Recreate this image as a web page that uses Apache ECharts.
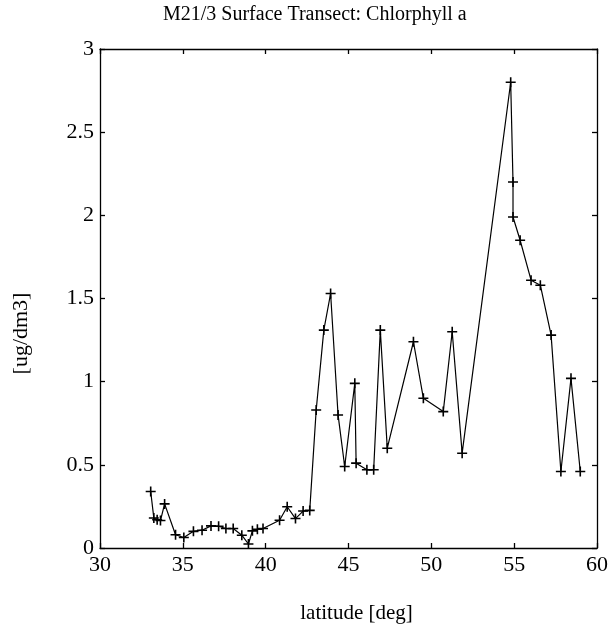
<!DOCTYPE html>
<html>
<head>
<meta charset="utf-8">
<script src="https://cdn.jsdelivr.net/npm/echarts@6/dist/echarts.min.js"></script>
<style>html,body{margin:0;padding:0;background:#fff}#c{width:611px;height:629px}</style>
</head>
<body>
<div id="c"></div>
<script>
const latitude = [33.06, 33.25, 33.45, 33.65, 33.9, 34.56, 35.06, 35.64, 36.16, 36.7, 37.16, 37.6, 38.04, 38.56, 38.96, 39.2, 39.5, 39.84, 40.84, 41.3, 41.8, 42.26, 42.66, 43.05, 43.51, 43.92, 44.37, 44.77, 45.38, 45.46, 46.11, 46.52, 46.92, 47.34, 48.92, 49.52, 50.72, 51.26, 51.86, 54.79, 54.93, 54.93, 55.36, 56.02, 56.58, 57.23, 57.82, 58.43, 58.99];
const chlorophyll = [0.34, 0.18, 0.17, 0.165, 0.265, 0.08, 0.063, 0.10, 0.107, 0.133, 0.131, 0.117, 0.117, 0.077, 0.024, 0.103, 0.113, 0.117, 0.167, 0.248, 0.177, 0.222, 0.226, 0.83, 1.31, 1.53, 0.80, 0.49, 0.99, 0.51, 0.47, 0.47, 1.31, 0.60, 1.24, 0.90, 0.82, 1.30, 0.57, 2.80, 2.20, 1.99, 1.85, 1.61, 1.58, 1.28, 0.46, 1.02, 0.46];
const xTicks = [30, 35, 40, 45, 50, 55, 60];
const yTicks = [0, 0.5, 1, 1.5, 2, 2.5, 3];

const FONT = '"Liberation Serif", "DejaVu Serif", serif';
const chart = echarts.init(document.getElementById('c'), null, {renderer: 'canvas'});
const lineStyle = {color: '#000', width: 1.3};
const tick = {show: true, inside: true, length: 5, lineStyle: {color: '#000', width: 1.3}};
const data = latitude.map((x, i) => [x, chlorophyll[i]]);

chart.setOption({
  animation: false,
  backgroundColor: '#fff',
  title: {
    text: 'M21/3 Surface Transect: Chlorphyll a',
    left: 158, top: 0,
    textStyle: {fontFamily: FONT, fontSize: 20, fontWeight: 'normal', color: '#000'}
  },
  grid: {left: 100, right: 13, top: 49, bottom: 78, containLabel: false},
  xAxis: [{
    type: 'value', min: xTicks[0], max: xTicks[xTicks.length - 1], interval: 5,
    name: 'latitude [deg]', nameLocation: 'middle', nameGap: 55,
    nameTextStyle: {fontFamily: FONT, fontSize: 21, color: '#000', padding: [0, 0, 0, 16]},
    axisLine: {show: true, onZero: false, lineStyle}, axisTick: tick,
    axisLabel: {fontFamily: FONT, fontSize: 22, color: '#000', margin: 6},
    splitLine: {show: false}
  }, {
    type: 'value', position: 'top', min: xTicks[0], max: xTicks[xTicks.length - 1], interval: 5,
    axisLine: {show: true, onZero: false, lineStyle}, axisTick: tick,
    axisLabel: {show: false}, splitLine: {show: false}
  }],
  yAxis: [{
    type: 'value', min: yTicks[0], max: yTicks[yTicks.length - 1], interval: 0.5,
    name: '[ug/dm3]', nameLocation: 'middle', nameGap: 68,
    nameTextStyle: {fontFamily: FONT, fontSize: 22, color: '#000', padding: [0, 70, 0, 0]},
    axisLine: {show: true, onZero: false, lineStyle}, axisTick: tick,
    axisLabel: {fontFamily: FONT, fontSize: 22, color: '#000', margin: 6},
    splitLine: {show: false}
  }, {
    type: 'value', position: 'right', min: yTicks[0], max: yTicks[yTicks.length - 1], interval: 0.5,
    axisLine: {show: true, onZero: false, lineStyle}, axisTick: tick,
    axisLabel: {show: false}, splitLine: {show: false}
  }],
  series: [{
    type: 'line',
    data: data,
    xAxisIndex: 0, yAxisIndex: 0,
    symbol: 'path://M0,5L10,5M5,0L5,10',
    symbolSize: 10,
    showAllSymbol: true,
    lineStyle: {color: '#000', width: 1.2},
    itemStyle: {color: 'none', borderColor: '#000', borderWidth: 1.6}
  }]
});
</script>
</body>
</html>
